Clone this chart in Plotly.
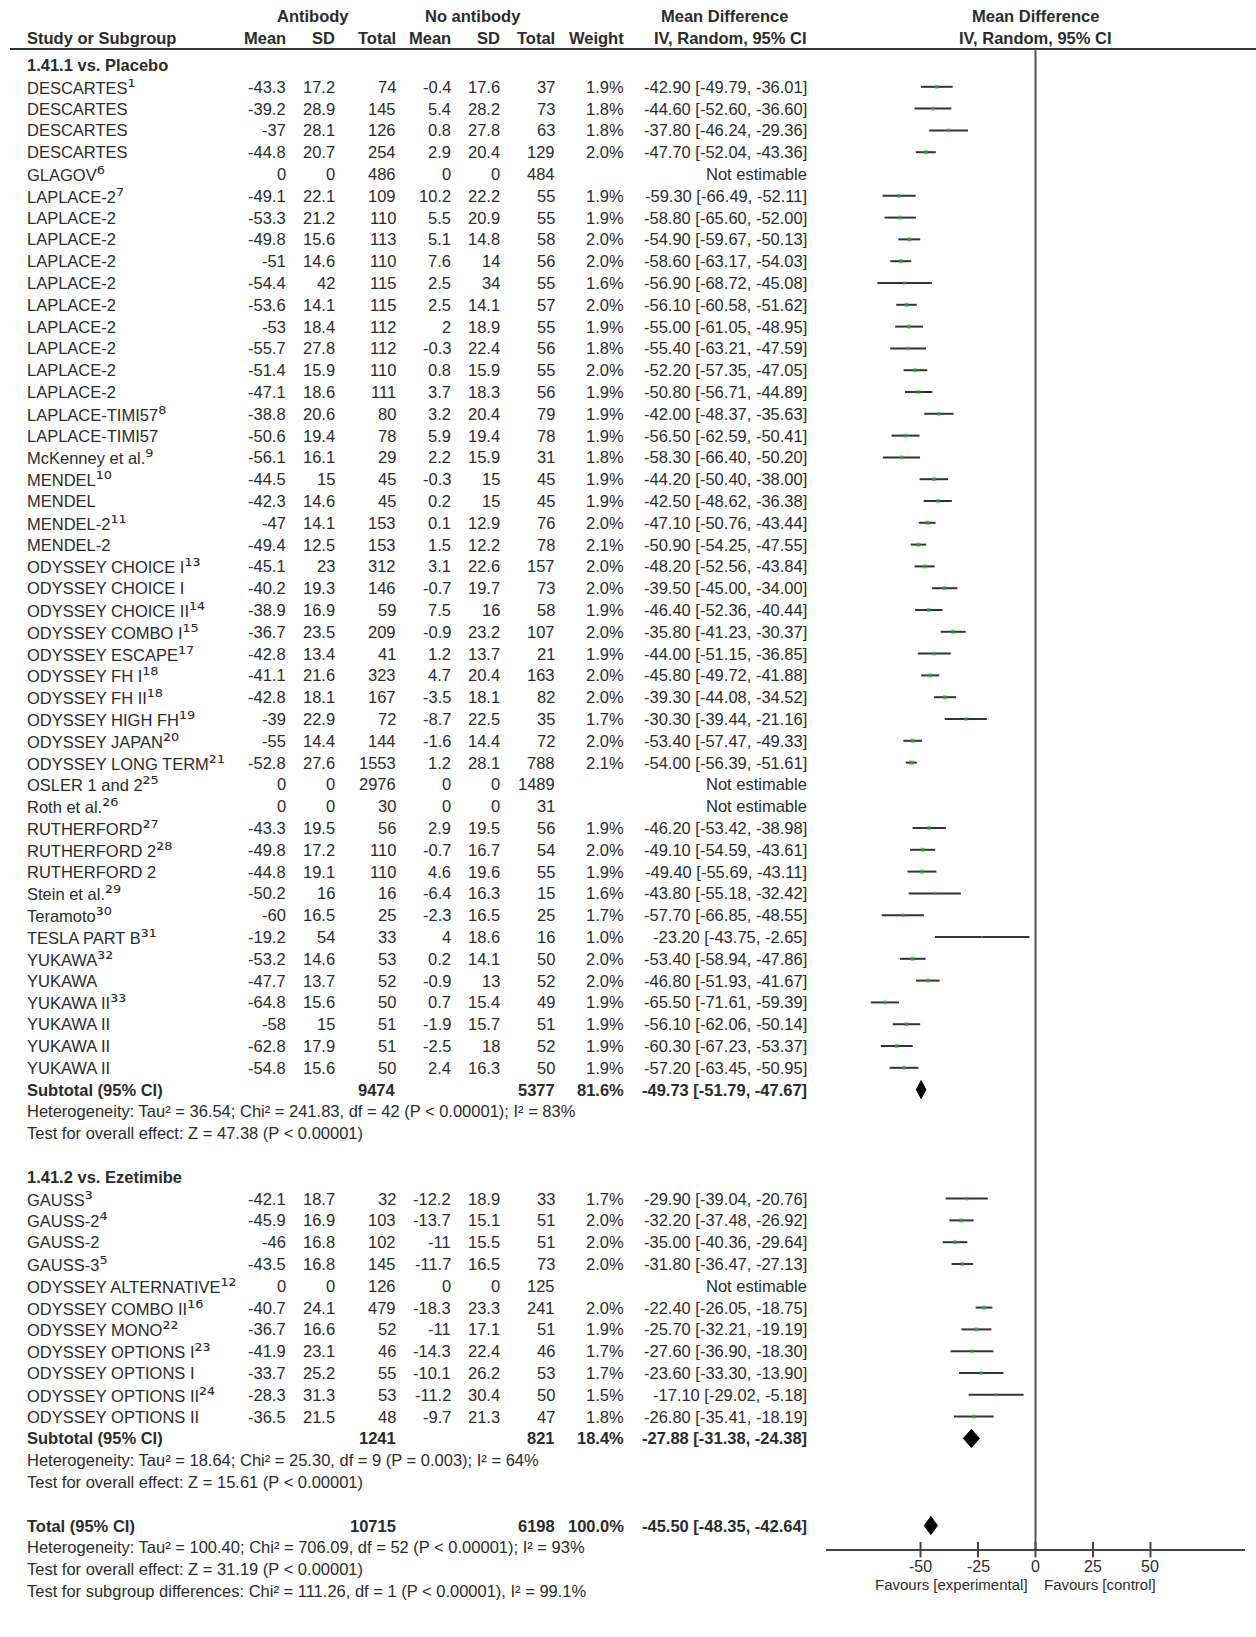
import plotly.graph_objects as go

# ---------------- 1.41.1 vs. Placebo ----------------
placebo_names = [
    "DESCARTES", "DESCARTES", "DESCARTES", "DESCARTES", "GLAGOV",
    "LAPLACE-2", "LAPLACE-2", "LAPLACE-2", "LAPLACE-2", "LAPLACE-2",
    "LAPLACE-2", "LAPLACE-2", "LAPLACE-2", "LAPLACE-2", "LAPLACE-2",
    "LAPLACE-TIMI57", "LAPLACE-TIMI57", "McKenney et al.", "MENDEL", "MENDEL",
    "MENDEL-2", "MENDEL-2", "ODYSSEY CHOICE I", "ODYSSEY CHOICE I", "ODYSSEY CHOICE II",
    "ODYSSEY COMBO I", "ODYSSEY ESCAPE", "ODYSSEY FH I", "ODYSSEY FH II", "ODYSSEY HIGH FH",
    "ODYSSEY JAPAN", "ODYSSEY LONG TERM", "OSLER 1 and 2", "Roth et al.", "RUTHERFORD",
    "RUTHERFORD 2", "RUTHERFORD 2", "Stein et al.", "Teramoto", "TESLA PART B",
    "YUKAWA", "YUKAWA", "YUKAWA II", "YUKAWA II", "YUKAWA II", "YUKAWA II",
]
placebo_refs = [
    1, None, None, None, 6,
    7, None, None, None, None, None, None, None, None, None,
    8, None, 9, 10, None,
    11, None, 13, None, 14,
    15, 17, 18, 18, 19,
    20, 21, 25, 26, 27,
    28, None, 29, 30, 31,
    32, None, 33, None, None, None,
]
placebo_ab_mean = [-43.3, -39.2, -37, -44.8, 0, -49.1, -53.3, -49.8, -51, -54.4, -53.6, -53, -55.7,
                   -51.4, -47.1, -38.8, -50.6, -56.1, -44.5, -42.3, -47, -49.4, -45.1, -40.2, -38.9,
                   -36.7, -42.8, -41.1, -42.8, -39, -55, -52.8, 0, 0, -43.3, -49.8, -44.8, -50.2, -60,
                   -19.2, -53.2, -47.7, -64.8, -58, -62.8, -54.8]
placebo_ab_sd = [17.2, 28.9, 28.1, 20.7, 0, 22.1, 21.2, 15.6, 14.6, 42, 14.1, 18.4, 27.8, 15.9, 18.6,
                 20.6, 19.4, 16.1, 15, 14.6, 14.1, 12.5, 23, 19.3, 16.9, 23.5, 13.4, 21.6, 18.1, 22.9,
                 14.4, 27.6, 0, 0, 19.5, 17.2, 19.1, 16, 16.5, 54, 14.6, 13.7, 15.6, 15, 17.9, 15.6]
placebo_ab_n = [74, 145, 126, 254, 486, 109, 110, 113, 110, 115, 115, 112, 112, 110, 111, 80, 78, 29,
                45, 45, 153, 153, 312, 146, 59, 209, 41, 323, 167, 72, 144, 1553, 2976, 30, 56, 110,
                110, 16, 25, 33, 53, 52, 50, 51, 51, 50]
placebo_ct_mean = [-0.4, 5.4, 0.8, 2.9, 0, 10.2, 5.5, 5.1, 7.6, 2.5, 2.5, 2, -0.3, 0.8, 3.7, 3.2, 5.9,
                   2.2, -0.3, 0.2, 0.1, 1.5, 3.1, -0.7, 7.5, -0.9, 1.2, 4.7, -3.5, -8.7, -1.6, 1.2, 0,
                   0, 2.9, -0.7, 4.6, -6.4, -2.3, 4, 0.2, -0.9, 0.7, -1.9, -2.5, 2.4]
placebo_ct_sd = [17.6, 28.2, 27.8, 20.4, 0, 22.2, 20.9, 14.8, 14, 34, 14.1, 18.9, 22.4, 15.9, 18.3,
                 20.4, 19.4, 15.9, 15, 15, 12.9, 12.2, 22.6, 19.7, 16, 23.2, 13.7, 20.4, 18.1, 22.5,
                 14.4, 28.1, 0, 0, 19.5, 16.7, 19.6, 16.3, 16.5, 18.6, 14.1, 13, 15.4, 15.7, 18, 16.3]
placebo_ct_n = [37, 73, 63, 129, 484, 55, 55, 58, 56, 55, 57, 55, 56, 55, 56, 79, 78, 31, 45, 45, 76,
                78, 157, 73, 58, 107, 21, 163, 82, 35, 72, 788, 1489, 31, 56, 54, 55, 15, 25, 16, 50,
                52, 49, 51, 52, 50]
placebo_weight = [1.9, 1.8, 1.8, 2.0, None, 1.9, 1.9, 2.0, 2.0, 1.6, 2.0, 1.9, 1.8, 2.0, 1.9, 1.9,
                  1.9, 1.8, 1.9, 1.9, 2.0, 2.1, 2.0, 2.0, 1.9, 2.0, 1.9, 2.0, 2.0, 1.7, 2.0, 2.1,
                  None, None, 1.9, 2.0, 1.9, 1.6, 1.7, 1.0, 2.0, 2.0, 1.9, 1.9, 1.9, 1.9]
placebo_md = [-42.90, -44.60, -37.80, -47.70, None, -59.30, -58.80, -54.90, -58.60, -56.90, -56.10,
              -55.00, -55.40, -52.20, -50.80, -42.00, -56.50, -58.30, -44.20, -42.50, -47.10, -50.90,
              -48.20, -39.50, -46.40, -35.80, -44.00, -45.80, -39.30, -30.30, -53.40, -54.00, None,
              None, -46.20, -49.10, -49.40, -43.80, -57.70, -23.20, -53.40, -46.80, -65.50, -56.10,
              -60.30, -57.20]
placebo_lo = [-49.79, -52.60, -46.24, -52.04, None, -66.49, -65.60, -59.67, -63.17, -68.72, -60.58,
              -61.05, -63.21, -57.35, -56.71, -48.37, -62.59, -66.40, -50.40, -48.62, -50.76, -54.25,
              -52.56, -45.00, -52.36, -41.23, -51.15, -49.72, -44.08, -39.44, -57.47, -56.39, None,
              None, -53.42, -54.59, -55.69, -55.18, -66.85, -43.75, -58.94, -51.93, -71.61, -62.06,
              -67.23, -63.45]
placebo_hi = [-36.01, -36.60, -29.36, -43.36, None, -52.11, -52.00, -50.13, -54.03, -45.08, -51.62,
              -48.95, -47.59, -47.05, -44.89, -35.63, -50.41, -50.20, -38.00, -36.38, -43.44, -47.55,
              -43.84, -34.00, -40.44, -30.37, -36.85, -41.88, -34.52, -21.16, -49.33, -51.61, None,
              None, -38.98, -43.61, -43.11, -32.42, -48.55, -2.65, -47.86, -41.67, -59.39, -50.14,
              -53.37, -50.95]

# ---------------- 1.41.2 vs. Ezetimibe ----------------
ezetimibe_names = ["GAUSS", "GAUSS-2", "GAUSS-2", "GAUSS-3", "ODYSSEY ALTERNATIVE", "ODYSSEY COMBO II",
                   "ODYSSEY MONO", "ODYSSEY OPTIONS I", "ODYSSEY OPTIONS I", "ODYSSEY OPTIONS II",
                   "ODYSSEY OPTIONS II"]
ezetimibe_refs = [3, 4, None, 5, 12, 16, 22, 23, None, 24, None]
ezetimibe_ab_mean = [-42.1, -45.9, -46, -43.5, 0, -40.7, -36.7, -41.9, -33.7, -28.3, -36.5]
ezetimibe_ab_sd = [18.7, 16.9, 16.8, 16.8, 0, 24.1, 16.6, 23.1, 25.2, 31.3, 21.5]
ezetimibe_ab_n = [32, 103, 102, 145, 126, 479, 52, 46, 55, 53, 48]
ezetimibe_ct_mean = [-12.2, -13.7, -11, -11.7, 0, -18.3, -11, -14.3, -10.1, -11.2, -9.7]
ezetimibe_ct_sd = [18.9, 15.1, 15.5, 16.5, 0, 23.3, 17.1, 22.4, 26.2, 30.4, 21.3]
ezetimibe_ct_n = [33, 51, 51, 73, 125, 241, 51, 46, 53, 50, 47]
ezetimibe_weight = [1.7, 2.0, 2.0, 2.0, None, 2.0, 1.9, 1.7, 1.7, 1.5, 1.8]
ezetimibe_md = [-29.90, -32.20, -35.00, -31.80, None, -22.40, -25.70, -27.60, -23.60, -17.10, -26.80]
ezetimibe_lo = [-39.04, -37.48, -40.36, -36.47, None, -26.05, -32.21, -36.90, -33.30, -29.02, -35.41]
ezetimibe_hi = [-20.76, -26.92, -29.64, -27.13, None, -18.75, -19.19, -18.30, -13.90, -5.18, -18.19]

# ---------------- pooled results ----------------
subgroup_titles = ["1.41.1 vs. Placebo", "1.41.2 vs. Ezetimibe"]
subtotal_ab_n = [9474, 1241]
subtotal_ct_n = [5377, 821]
subtotal_weight = [81.6, 18.4]
subtotal_md = [-49.73, -27.88]
subtotal_lo = [-51.79, -31.38]
subtotal_hi = [-47.67, -24.38]
subtotal_het = ["Heterogeneity: Tau² = 36.54; Chi² = 241.83, df = 42 (P < 0.00001); I² = 83%",
                "Heterogeneity: Tau² = 18.64; Chi² = 25.30, df = 9 (P = 0.003); I² = 64%"]
subtotal_test = ["Test for overall effect: Z = 47.38 (P < 0.00001)",
                 "Test for overall effect: Z = 15.61 (P < 0.00001)"]

total_ab_n = 10715
total_ct_n = 6198
total_weight = 100.0
total_md, total_lo, total_hi = -45.50, -48.35, -42.64
total_notes = ["Heterogeneity: Tau² = 100.40; Chi² = 706.09, df = 52 (P < 0.00001); I² = 93%",
               "Test for overall effect: Z = 31.19 (P < 0.00001)",
               "Test for subgroup differences: Chi² = 111.26, df = 1 (P < 0.00001), I² = 99.1%"]

axis_ticks = [-50, -25, 0, 25, 50]
axis_range = [-91.1, 91.1]
favours_left = "Favours [experimental]"
favours_right = "Favours [control]"

# ---------------- page geometry (pixels) ----------------
W, H = 1256, 1637
FONT = "Liberation Sans, Arial, sans-serif"
FS = 16.5
TXT = "#2b2b2b"
HEAD1_Y, HEAD2_Y, RULE_Y = 16, 38, 49
ROW0_Y, PITCH = 65, 21.8

COL_NAME = 25
COL_AB_MEAN, COL_AB_SD, COL_AB_N = 288, 337, 398
COL_CT_MEAN, COL_CT_SD, COL_CT_N = 453, 502, 557
COL_WEIGHT = 626
COL_CI = 809
AB_HEAD_X, CT_HEAD_X, MD_HEAD_X = 313, 473, 724
FOREST_L, FOREST_R = 826, 1245
DIAMOND_HALF = 9
AXIS_GAP, TICKLABEL_GAP, FAVOURS_GAP = 24, 17, 35

# footnote numbers: superscript digits set in a font with a full, uniform superscript range
SUPERSCRIPT = str.maketrans("0123456789", "⁰¹²³⁴⁵⁶⁷⁸⁹")
SUP_STYLE = "font-family:DejaVu Sans;font-size:20px"

annotations = []


def put(x, y, s, anchor="right", bold=False, size=FS, xref="x", xshift=0):
    annotations.append(dict(x=x, y=y, xref=xref, yref="y", text=s, showarrow=False,
                            xanchor=anchor, yanchor="middle", xshift=xshift,
                            font=dict(family=FONT, size=size, color=TXT,
                                      weight="bold" if bold else "normal")))


def num(v):
    return f"{v:g}"


def ci_text(md, lo, hi):
    return f"{md:.2f} [{lo:.2f}, {hi:.2f}]"


def row_y(i):
    return ROW0_Y + i * PITCH


# ---------------- column headers ----------------
put(AB_HEAD_X, HEAD1_Y, "Antibody", "center", True)
put(CT_HEAD_X, HEAD1_Y, "No antibody", "center", True)
put(MD_HEAD_X, HEAD1_Y, "Mean Difference", "center", True)
put(0, HEAD1_Y, "Mean Difference", "center", True, xref="x2")
put(COL_NAME, HEAD2_Y, "Study or Subgroup", "left", True)
for x, s in [(COL_AB_MEAN, "Mean"), (COL_AB_SD, "SD"), (COL_AB_N, "Total"),
             (COL_CT_MEAN, "Mean"), (COL_CT_SD, "SD"), (COL_CT_N, "Total"),
             (COL_WEIGHT, "Weight"), (COL_CI, "IV, Random, 95% CI")]:
    put(x, HEAD2_Y, s, "right", True)
put(0, HEAD2_Y, "IV, Random, 95% CI", "center", True, xref="x2")

groups = [
    dict(names=placebo_names, refs=placebo_refs, ab_mean=placebo_ab_mean, ab_sd=placebo_ab_sd,
         ab_n=placebo_ab_n, ct_mean=placebo_ct_mean, ct_sd=placebo_ct_sd, ct_n=placebo_ct_n,
         weight=placebo_weight, md=placebo_md, lo=placebo_lo, hi=placebo_hi),
    dict(names=ezetimibe_names, refs=ezetimibe_refs, ab_mean=ezetimibe_ab_mean, ab_sd=ezetimibe_ab_sd,
         ab_n=ezetimibe_ab_n, ct_mean=ezetimibe_ct_mean, ct_sd=ezetimibe_ct_sd, ct_n=ezetimibe_ct_n,
         weight=ezetimibe_weight, md=ezetimibe_md, lo=ezetimibe_lo, hi=ezetimibe_hi),
]

ci_x, ci_y = [], []
pt_x, pt_y, pt_size = [], [], []
diamonds = []

row = 0
for g, grp in enumerate(groups):
    put(COL_NAME, row_y(row), subgroup_titles[g], "left", True)
    row += 1
    for k, name in enumerate(grp["names"]):
        y = row_y(row)
        ref = grp["refs"][k]
        if ref is None:
            label = name
        else:
            label = f'{name}<span style="{SUP_STYLE}">{str(ref).translate(SUPERSCRIPT)}</span>'
        put(COL_NAME, y, label, "left")
        put(COL_AB_MEAN, y, num(grp["ab_mean"][k]))
        put(COL_AB_SD, y, num(grp["ab_sd"][k]))
        put(COL_AB_N, y, num(grp["ab_n"][k]))
        put(COL_CT_MEAN, y, num(grp["ct_mean"][k]))
        put(COL_CT_SD, y, num(grp["ct_sd"][k]))
        put(COL_CT_N, y, num(grp["ct_n"][k]))
        md = grp["md"][k]
        if md is None:
            put(COL_CI, y, "Not estimable")
        else:
            lo, hi = grp["lo"][k], grp["hi"][k]
            put(COL_WEIGHT, y, f"{grp['weight'][k]:.1f}%")
            put(COL_CI, y, ci_text(md, lo, hi))
            ci_x += [lo, hi, None]
            ci_y += [y, y, None]
            pt_x.append(md)
            pt_y.append(y)
            pt_size.append(2.0 * grp["weight"][k])
        row += 1
    y = row_y(row)
    put(COL_NAME, y, "Subtotal (95% CI)", "left", True)
    put(COL_AB_N, y, num(subtotal_ab_n[g]), bold=True)
    put(COL_CT_N, y, num(subtotal_ct_n[g]), bold=True)
    put(COL_WEIGHT, y, f"{subtotal_weight[g]:.1f}%", bold=True)
    put(COL_CI, y, ci_text(subtotal_md[g], subtotal_lo[g], subtotal_hi[g]), bold=True)
    diamonds.append((subtotal_md[g], subtotal_lo[g], subtotal_hi[g], y))
    row += 1
    put(COL_NAME, row_y(row), subtotal_het[g], "left")
    row += 1
    put(COL_NAME, row_y(row), subtotal_test[g], "left")
    row += 2

total_y = row_y(row)
put(COL_NAME, total_y, "Total (95% CI)", "left", True)
put(COL_AB_N, total_y, num(total_ab_n), bold=True)
put(COL_CT_N, total_y, num(total_ct_n), bold=True)
put(COL_WEIGHT, total_y, f"{total_weight:.1f}%", bold=True)
put(COL_CI, total_y, ci_text(total_md, total_lo, total_hi), bold=True)
diamonds.append((total_md, total_lo, total_hi, total_y))
for j, s in enumerate(total_notes):
    put(COL_NAME, row_y(row + 1 + j), s, "left")

AXIS_Y = total_y + AXIS_GAP
for t in axis_ticks:
    put(t, AXIS_Y + TICKLABEL_GAP, str(t), "center", size=16, xref="x2")
put(0, AXIS_Y + FAVOURS_GAP, favours_left, "right", size=15, xref="x2", xshift=-6)
put(0, AXIS_Y + FAVOURS_GAP, favours_right, "left", size=15, xref="x2", xshift=6)

fig = go.Figure()

# confidence intervals of the individual studies
fig.add_trace(go.Scatter(x=ci_x, y=ci_y, xaxis="x2", yaxis="y", mode="lines",
                         line=dict(color="#333333", width=2), hoverinfo="skip"))
# point estimates, sized by weight
fig.add_trace(go.Scatter(x=pt_x, y=pt_y, xaxis="x2", yaxis="y", mode="markers",
                         marker=dict(symbol="square", size=pt_size, color="#22b822",
                                     line=dict(width=0))))
# pooled estimates as diamonds
for md, lo, hi, y in diamonds:
    fig.add_trace(go.Scatter(x=[lo, md, hi, md, lo],
                             y=[y, y - DIAMOND_HALF, y, y + DIAMOND_HALF, y],
                             xaxis="x2", yaxis="y", mode="lines", fill="toself",
                             fillcolor="#000000", line=dict(color="#000000", width=1)))
# tick marks crossing the axis line
fig.add_trace(go.Scatter(x=axis_ticks, y=[AXIS_Y] * len(axis_ticks), xaxis="x2", yaxis="y",
                         mode="markers",
                         marker=dict(symbol="line-ns", size=11, line=dict(color="#444444", width=2))))

shapes = [
    dict(type="line", xref="x", yref="y", x0=10, x1=W, y0=RULE_Y, y1=RULE_Y,
         line=dict(color="#333333", width=2)),
    dict(type="line", xref="x2", yref="y", x0=0, x1=0, y0=RULE_Y, y1=AXIS_Y,
         line=dict(color="#555555", width=2)),
]

fig.update_layout(
    width=W, height=H, margin=dict(l=0, r=0, t=0, b=0),
    paper_bgcolor="white", plot_bgcolor="white", showlegend=False,
    font=dict(family=FONT, size=FS, color=TXT),
    xaxis=dict(range=[0, W], domain=[0, 1], visible=False, fixedrange=True),
    xaxis2=dict(range=axis_range, domain=[FOREST_L / W, FOREST_R / W], anchor="free",
                position=1 - AXIS_Y / H, showline=True, linecolor="#444444", linewidth=2,
                ticks="", showticklabels=False, showgrid=False, zeroline=False, fixedrange=True),
    yaxis=dict(range=[H, 0], domain=[0, 1], visible=False, fixedrange=True),
    annotations=annotations, shapes=shapes,
)

fig.write_html("out.html")
